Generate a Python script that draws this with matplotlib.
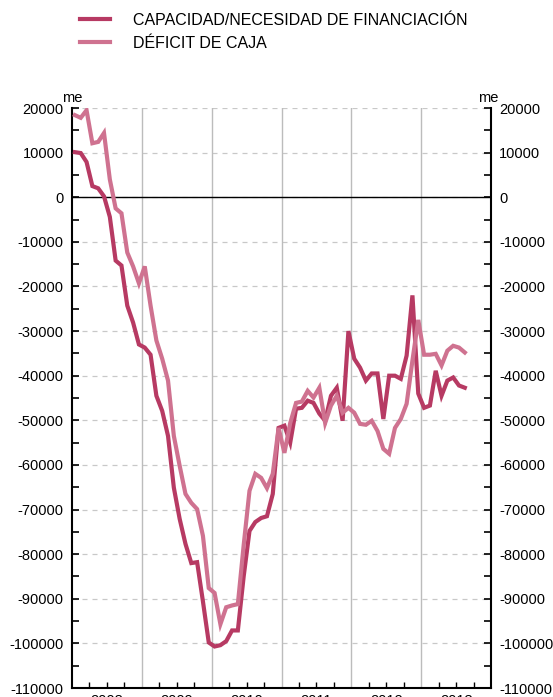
import matplotlib.pyplot as plt
import numpy as np

plt.rcParams['font.family'] = ['Liberation Sans', 'DejaVu Sans']

# monthly values, Jan 2008 - Aug 2013 (millones de euros)
capacidad = [10100, 9900, 7900, 2500, 2000, 200, -4400, -14200, -15300, -24300,
             -28100, -33000, -33700, -35300, -44500, -47900, -53500, -65100, -72100, -77700,
             -82000, -81800, -90600, -99800, -100700, -100400, -99500, -97100, -97100, -85000,
             -74800, -72800, -71900, -71500, -66500, -51700, -51200, -55000, -47400, -47200,
             -45600, -46100, -48500, -50100, -44500, -42700, -50100, -30000, -36200, -38200,
             -41100, -39500, -39500, -49700, -40000, -40000, -40700, -35500, -22000, -44000,
             -47200, -46700, -38900, -44500, -41100, -40400, -42200, -42700]
deficit = [18400, 17800, 19500, 12100, 12400, 14400, 4000, -2500, -3600, -12400,
           -15500, -19300, -15500, -24300, -32100, -36200, -41100, -53500, -60200, -66500,
           -68500, -69900, -75900, -87600, -88700, -95700, -91900, -91500, -91200, -78000,
           -65800, -62000, -62900, -65200, -62000, -51700, -57300, -50600, -46100, -45800,
           -43400, -44900, -42700, -50600, -46700, -44500, -48300, -47200, -48300, -50800,
           -51000, -50100, -52400, -56400, -57500, -51700, -49700, -46300, -36600, -27500,
           -35300, -35300, -35100, -37700, -34400, -33300, -33700, -34800]
years = [2008, 2009, 2010, 2011, 2012, 2013]
series_names = ['CAPACIDAD/NECESIDAD DE FINANCIACIÓN', 'DÉFICIT DE CAJA']

dark = '#b73a63'
light = '#cf7290'

months = np.arange(len(capacidad))
x = years[0] + (months + 0.5) / 12

fig = plt.figure(figsize=(5.53, 6.97), dpi=100)
ax = fig.add_axes([72 / 553, 9 / 697, 419 / 553, 580 / 697])

# grid: dashed horizontals, solid year separators, black zero line
for v in range(-100000, 20001, 10000):
    ax.axhline(v, color='#c8c8c8', lw=0.9, ls=(0, (4, 4)), zorder=1)
for yr in years[1:]:
    ax.axvline(yr, color='#bcbcbc', lw=1.0, zorder=1)
ax.axhline(0, color='black', lw=1.0, zorder=2)

l1, = ax.plot(x, capacidad, color=dark, lw=3.0, zorder=3, solid_joinstyle='miter')
l2, = ax.plot(x, deficit, color=light, lw=3.0, zorder=3, solid_joinstyle='miter')

ax.set_xlim(years[0], years[-1] + 1)
ax.set_ylim(-110000, 20000)

ax.set_yticks(range(-110000, 20001, 10000))
ax.set_yticks(range(-110000, 20001, 5000), minor=True)
ax.yaxis.set_major_formatter(plt.FuncFormatter(lambda v, p: f'{int(v)}'))
ax.tick_params(axis='y', which='both', direction='in', length=5, width=1.2,
               left=True, right=True, labelleft=True, labelright=True,
               labelsize=10.5, pad=6)

ax.set_xticks(years + [years[-1] + 1])
ax.set_xticks(np.arange(years[0], years[-1] + 1, 0.25), minor=True)
ax.tick_params(axis='x', which='major', length=0, labelbottom=False)
ax.tick_params(axis='x', which='minor', direction='in', length=4, width=1.0)
for yr in years:
    ax.annotate(str(yr), xy=(yr + 0.5, 0), xycoords=('data', 'axes fraction'),
                xytext=(0, -4.5), textcoords='offset points',
                ha='center', va='top', fontsize=10.5, annotation_clip=False)

for side in ['left', 'right', 'bottom']:
    ax.spines[side].set_linewidth(1.5)
ax.spines['top'].set_visible(False)

# unit labels above both axes
ax.annotate('me', xy=(0, 1), xycoords='axes fraction', xytext=(0, 2),
            textcoords='offset points', ha='center', va='bottom', fontsize=10.5)
ax.annotate('me', xy=(1, 1), xycoords='axes fraction', xytext=(-2, 2),
            textcoords='offset points', ha='center', va='bottom', fontsize=10.5)

fig.legend([l1, l2], series_names, loc='upper left',
           bbox_to_anchor=(80 / 553, 1 - 13 / 697), borderpad=0, borderaxespad=0,
           frameon=False, fontsize=11.5, handlelength=1.9, handletextpad=1.4,
           labelspacing=0.5)

fig.savefig('out.png', dpi=100)
